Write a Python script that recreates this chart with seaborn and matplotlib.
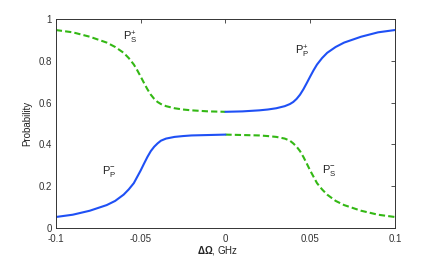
import numpy as np
import pandas as pd
import matplotlib
matplotlib.use("Agg")
import matplotlib.pyplot as plt
import seaborn as sns

# Left half (x < 0)
x_left = [-0.100, -0.090, -0.080, -0.070, -0.065, -0.060, -0.057, -0.054, -0.052, -0.050,
          -0.048, -0.046, -0.044, -0.042, -0.040, -0.038, -0.035, -0.030, -0.025, -0.020,
          -0.010, 0.000]
ps_plus_left = [0.947, 0.936, 0.915, 0.887, 0.866, 0.838, 0.813, 0.782, 0.755, 0.725,
                0.694, 0.664, 0.638, 0.618, 0.603, 0.593, 0.583, 0.573, 0.567, 0.563,
                0.558, 0.556]
pp_minus_left = [0.053, 0.064, 0.083, 0.110, 0.130, 0.160, 0.185, 0.215, 0.245, 0.275,
                 0.308, 0.340, 0.368, 0.389, 0.405, 0.418, 0.428, 0.436, 0.440, 0.443,
                 0.445, 0.447]

# Right half (x > 0): mirror of left
x_right = [-v for v in x_left[::-1]]
pp_plus_right = ps_plus_left[::-1]
ps_minus_right = pp_minus_left[::-1]

y_ticks = [0, 0.2, 0.4, 0.6, 0.8, 1]
y_tick_labels = ["0", "0.2", "0.4", "0.6", "0.8", "1"]
x_ticks = [-0.1, -0.05, 0, 0.05, 0.1]
x_tick_labels = ["-0.1", "-0.05", "0", "0.05", "0.1"]

sns.set_style("white")
plt.rcParams['font.family'] = ['Liberation Sans', 'DejaVu Sans']
plt.rcParams['mathtext.fontset'] = 'custom'
plt.rcParams['mathtext.rm'] = 'Liberation Sans'
plt.rcParams['mathtext.it'] = 'Liberation Sans'
plt.rcParams['mathtext.bf'] = 'Liberation Sans:bold'

blue = '#1f50f5'
green = '#33b814'

fig = plt.figure(figsize=(4.36, 2.56), dpi=100)
ax = fig.add_axes([0.128, 0.109, 0.778, 0.817])

df = pd.concat([
    pd.DataFrame({'x': x_left, 'y': ps_plus_left, 'curve': 'PS+'}),
    pd.DataFrame({'x': x_left, 'y': pp_minus_left, 'curve': 'PP-'}),
    pd.DataFrame({'x': x_right, 'y': pp_plus_right, 'curve': 'PP+'}),
    pd.DataFrame({'x': x_right, 'y': ps_minus_right, 'curve': 'PS-'}),
])

styles = {'PS+': (green, (0, (3, 1.5))), 'PS-': (green, (0, (3, 1.5))),
          'PP+': (blue, '-'), 'PP-': (blue, '-')}
for name, (c, ls) in styles.items():
    sub = df[df['curve'] == name]
    sns.lineplot(data=sub, x='x', y='y', ax=ax, color=c, linewidth=1.5,
                 linestyle=ls, sort=True, estimator=None)

ax.set_xlim(-0.1, 0.1)
ax.set_ylim(0, 1)
ax.set_xticks(x_ticks)
ax.set_xticklabels(x_tick_labels)
ax.set_yticks(y_ticks)
ax.set_yticklabels(y_tick_labels)
ax.tick_params(direction='in', length=3, width=0.6, labelsize=7, colors='#333333',
               top=True, right=True, pad=3)
ax.tick_params(axis='x', pad=4)
for s in ax.spines.values():
    s.set_visible(True)
    s.set_linewidth(0.7)
    s.set_color('#333333')

ax.set_xlabel('')
ax.set_ylabel('Probability', fontsize=7, color='#222222', labelpad=4)
fig.text(0.5, 0.023, r'$\mathbf{\Delta\Omega}$, GHz', ha='center', va='center',
         fontsize=7, color='#222222')

lbl = dict(fontsize=8, color='#222222')
ax.text(-0.0605, 0.895, r'P$^{+}_{S}$', **lbl)
ax.text(0.041, 0.83, r'P$^{+}_{P}$', **lbl)
ax.text(-0.073, 0.26, r'P$^{-}_{P}$', **lbl)
ax.text(0.057, 0.265, r'P$^{-}_{S}$', **lbl)

fig.savefig('out.png', dpi=100)
